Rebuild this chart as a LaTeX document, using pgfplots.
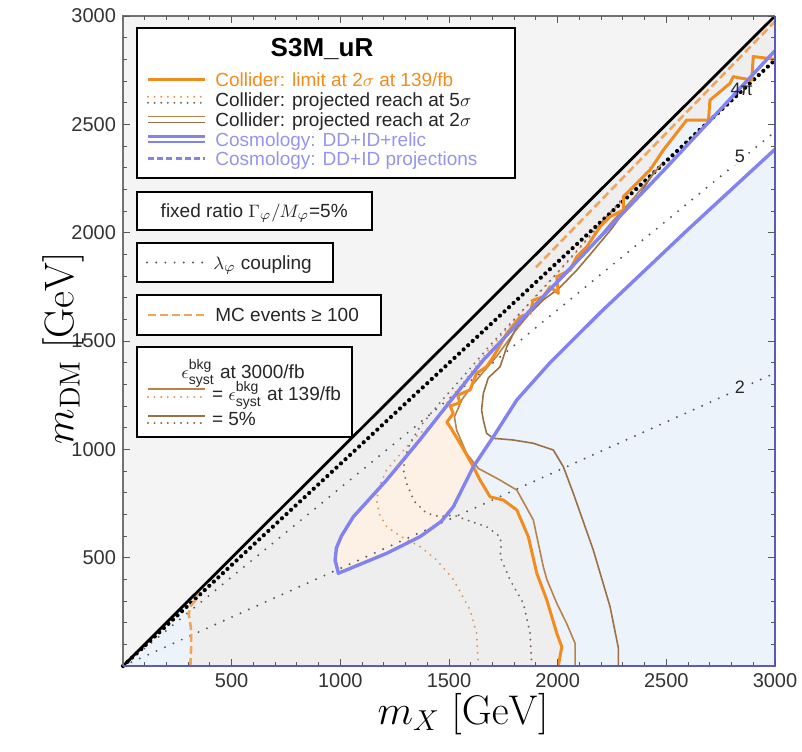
\documentclass[border=0pt]{standalone}
\usepackage[no-math]{fontspec}
\setmainfont{Liberation Sans}
\usepackage{pgfplots}
\pgfplotsset{compat=1.18}

\definecolor{uppergray}{HTML}{F4F4F4}
\definecolor{collgray}{HTML}{EEEEEE}
\definecolor{cosblue}{HTML}{EDF3FB}
\definecolor{tongueor}{HTML}{FDF0E4}
\definecolor{limor}{HTML}{F28C1E}
\definecolor{brownA}{HTML}{B8834A}
\definecolor{brownB}{HTML}{9A7045}
\definecolor{dotA}{HTML}{E0995C}
\definecolor{dotB}{HTML}{7F6A5C}
\definecolor{relicblue}{HTML}{8282F0}
\definecolor{edgeblue}{HTML}{5A5AC0}
\definecolor{legblue}{HTML}{9595F0}
\definecolor{mcor}{HTML}{F0A45C}

\tikzset{
  lamdot/.style={color=black!65, line width=1.1pt, line cap=round, dash pattern=on 0pt off 4.6pt},
  pidot/.style={color=black, line width=2.1pt, line cap=round, dash pattern=on 0pt off 3.1pt},
  dotA/.style={color=dotA, line width=1.1pt, line cap=round, dash pattern=on 0pt off 3.3pt},
  dotB/.style={color=dotB, line width=1.1pt, line cap=round, dash pattern=on 0pt off 3.3pt},
  mcdash/.style={color=mcor, line width=1.3pt, dash pattern=on 4pt off 2pt},
  legbox/.style={draw=black, line width=1.1pt, fill=white},
}

\begin{document}
\begin{tikzpicture}
\useasboundingbox (-61.5pt,-42.5pt) rectangle (339.5pt,333pt);
\begin{axis}[
  at={(0,0)}, anchor=south west,
  scale only axis, width=326pt, height=325pt,
  xmin=0, xmax=3000, ymin=0, ymax=3000,
  xtick={500,1000,1500,2000,2500,3000},
  ytick={500,1000,1500,2000,2500,3000},
  minor xtick={100,200,...,2900},
  minor ytick={100,200,...,2900},
  tick align=inside,
  major tick length=3.5pt, minor tick length=2pt,
  every tick/.style={color=black!65, line width=0.5pt},
  axis line style={draw=none},
  axis on top,
  clip=false,
  no markers,
  ticklabel style={font=\fontsize{10}{12}\selectfont, text=black!80},
  /pgf/number format/assume math mode=true,
  /pgf/number format/set thousands separator={},
  scaled ticks=false,
]
% ---------- background regions ----------
\addplot[fill=uppergray, draw=none] coordinates {(0,0)(3000,3000)(0,3000)} -- cycle;
\addplot[fill=cosblue, draw=none] coordinates {(0,0)(3000,0)(3000,3000)} -- cycle;
% tongue interior (allowed by cosmology)
\addplot[fill=white, draw=none] coordinates {
(991,428)(976,489)(982,545)(1005,600)(1060,689)(1213,858)(1367,1045)(1520,1240)(1658,1412)(1900,1670)(2200,1985)(2500,2300)(2750,2570)(3000,2840)
(3000,2385)(2800,2200)(2600,2015)(2400,1825)(2200,1635)(1965,1400)(1812,1228)(1704,1058)(1612,920)(1520,735)(1465,668)(1367,597)(1213,520)} -- cycle;
% collider excluded
\addplot[fill=collgray, draw=none] coordinates {
(310,0)(314,100)(312,180)(302,240)(310,275)(330,300)(345,345)(3000,3000)(3000,2800)
(2900,2813)(2893,2704)(2808,2720)(2793,2689)(2701,2612)(2694,2520)(2594,2520)(2486,2381)(2425,2289)(2364,2228)(2302,2166)(2302,2104)(2241,2074)(2195,2027)(2134,1935)(2088,1889)(2057,1827)(1996,1797)(2003,1720)(1965,1750)(1934,1704)(1888,1689)(1873,1628)(1827,1612)(1766,1535)(1704,1427)(1673,1381)(1627,1351)(1597,1274)(1540,1250)(1551,1215)(1505,1200)(1520,1166)(1490,1125)(1505,1104)(1551,1028)(1612,920)(1643,858)(1689,781)(1750,766)(1812,720)(1865,597)(1904,428)(1950,305)(1996,151)(2019,89)(2003,0)} -- cycle;
% tongue and collider overlap
\addplot[fill=tongueor, draw=none] coordinates {
(991,428)(1213,520)(1367,597)(1465,668)(1520,735)(1612,920)
(1551,1028)(1505,1104)(1490,1125)(1520,1166)(1505,1200)(1551,1215)(1540,1250)(1597,1274)(1627,1351)(1673,1381)(1704,1427)(1766,1535)
(1766,1527)(1658,1412)(1520,1240)(1367,1045)(1213,858)(1060,689)(1005,600)(982,545)(976,489)} -- cycle;

% ---------- coupling lines ----------
\addplot[lamdot] coordinates {(0,0)(3000,1352)};
\addplot[lamdot] coordinates {(0,0)(3000,2466)};
\addplot[pidot] coordinates {(0,0)(3000,2797)};

% ---------- projected 5 sigma (dotted) ----------
\addplot[dotA] coordinates {(1635,0)(1627,151)(1597,258)(1520,400)(1443,489)(1367,551)(1275,600)(1213,643)(1180,700)(1167,766)(1180,830)(1213,905)(1260,960)(1305,1012)(1360,1070)(1413,1105)(1470,1180)(1500,1230)(1560,1300)(1650,1420)(1760,1550)(1900,1710)(2050,1870)(2200,2040)(2350,2210)(2500,2390)};
\addplot[dotB] coordinates {(1881,0)(1873,151)(1842,289)(1781,397)(1735,505)(1740,560)(1735,597)(1673,643)(1581,674)(1520,697)(1459,689)(1397,705)(1340,760)(1305,843)(1290,905)(1300,970)(1321,1028)(1367,1105)(1420,1170)(1480,1240)(1560,1330)(1680,1470)(1800,1600)(1950,1760)(2100,1930)(2300,2160)};

% ---------- projected 2 sigma (solid brown) ----------
\addplot[brownA, line width=0.8pt] coordinates {(2080,0)(2080,105)(2041,197)(1996,289)(1950,400)(1934,458)(1888,674)(1812,812)(1735,858)(1635,912)(1581,981)(1535,1089)(1525,1150)(1560,1230)(1610,1300)(1660,1360)(1720,1430)(1800,1540)(1880,1640)(1960,1730)(2050,1820)(2150,1930)(2250,2050)(2350,2160)(2480,2320)};
\addplot[brownB, line width=0.8pt] coordinates {(2279,0)(2279,85)(2241,274)(2164,535)(2072,797)(2026,920)(1980,997)(1888,1028)(1796,1043)(1704,1051)(1673,1074)(1658,1135)(1650,1181)(1658,1258)(1681,1330)(1735,1381)(1766,1474)(1812,1566)(1873,1628)(1934,1690)(2003,1740)(2088,1827)(2150,1900)(2250,2020)(2300,2090)(2380,2180)(2450,2290)};

% ---------- observed limit ----------
\addplot[limor, line width=1.5pt, line join=round] coordinates {(2003,0)(2019,89)(1996,151)(1950,305)(1904,428)(1865,597)(1812,720)(1750,766)(1689,781)(1643,858)(1612,920)(1551,1028)(1505,1104)(1490,1125)(1520,1166)(1505,1200)(1551,1215)(1540,1250)(1597,1274)(1627,1351)(1673,1381)(1704,1427)(1766,1535)(1827,1612)(1873,1628)(1888,1689)(1934,1704)(1965,1750)(2003,1720)(1996,1797)(2057,1827)(2088,1889)(2134,1935)(2195,2027)(2241,2074)(2302,2104)(2302,2166)(2364,2228)(2425,2289)(2486,2381)(2594,2520)(2694,2520)(2701,2612)(2793,2689)(2808,2720)(2893,2704)(2900,2813)(3000,2800)};

% ---------- MC events >= 100 ----------
\addplot[mcdash] coordinates {(310,0)(314,100)(312,180)(302,240)(310,275)(330,300)(345,340)};
\addplot[mcdash] coordinates {(1900,1840)(2500,2460)(3000,2975)};

% ---------- cosmology contour ----------
\addplot[relicblue, line width=1.7pt, line join=round] coordinates {
(3000,2840)(2750,2570)(2500,2300)(2200,1985)(1900,1670)(1658,1412)(1520,1240)(1367,1045)(1213,858)(1060,689)(1005,600)(982,545)(976,489)(991,428)
(1213,520)(1367,597)(1465,668)(1520,735)(1612,920)(1704,1058)(1812,1228)(1965,1400)(2200,1635)(2400,1825)(2600,2015)(2800,2200)(3000,2385)};

% ---------- diagonal ----------
\addplot[black, line width=1.4pt] coordinates {(0,0)(3000,3000)};

% ---------- frame ----------
\addplot[black!55, line width=0.6pt] coordinates {(0,0)(0,3000)(3000,3000)};
\addplot[edgeblue, line width=1.3pt] coordinates {(0,0)(3000,0)(3000,3000)};

% ---------- contour labels ----------
\node[font=\fontsize{9}{10}\selectfont, text=black!85, inner sep=1pt] at (axis cs:2847,2660) {4π};
\node[font=\fontsize{9}{10}\selectfont, text=black!85, fill=white, inner sep=1pt] at (axis cs:2838,2351) {5};
\node[font=\fontsize{9}{10}\selectfont, text=black!85, fill=cosblue, inner sep=1pt] at (axis cs:2838,1289) {2};
\end{axis}

% ---------- axis labels ----------
\node at (170pt,-24pt) {\fontsize{21}{24}\selectfont $m_X\ [\mathrm{GeV}]$};
\node[rotate=90] at (-30pt,159pt) {\fontsize{21}{24}\selectfont $m_{\mathrm{DM}}\ [\mathrm{GeV}]$};

% ---------- legend box 1 ----------
\begin{scope}[every node/.style={font=\fontsize{9.5}{10}\selectfont, inner sep=0pt, anchor=west, text height=1.6ex, text depth=0.3ex}]
\draw[legbox] (6.85pt,243.85pt) rectangle (196pt,318.85pt);
\node[anchor=center, font=\fontsize{13}{14}\selectfont\bfseries] at (99.5pt,308pt) {S3M\_uR};
\draw[limor, line width=1.5pt] (12.5pt,293pt) -- (41pt,293pt);
\node[text=limor] at (46pt,293pt) {Collider: limit at 2$\sigma$ at 139/fb};
\draw[dotA] (12.5pt,284.6pt) -- (41pt,284.6pt);
\draw[dotB] (12.5pt,281.6pt) -- (41pt,281.6pt);
\node[text=black!85] at (46pt,283pt) {Collider: projected reach at 5$\sigma$};
\draw[brownA, line width=0.9pt] (12.5pt,274.7pt) -- (41pt,274.7pt);
\draw[brownB, line width=0.9pt] (12.5pt,271.7pt) -- (41pt,271.7pt);
\node[text=black!85] at (46pt,273pt) {Collider: projected reach at 2$\sigma$};
\draw[relicblue, line width=1.6pt] (12.5pt,264.8pt) -- (41pt,264.8pt);
\draw[relicblue, line width=0.6pt] (12.5pt,262pt) -- (41pt,262pt);
\node[text=legblue] at (46pt,263pt) {Cosmology: DD+ID+relic};
\draw[relicblue, line width=1.2pt, dash pattern=on 3pt off 1.6pt] (12.5pt,253.8pt) -- (41pt,253.8pt);
\node[text=legblue] at (46pt,253.8pt) {Cosmology: DD+ID projections};

% ---------- box 2 ----------
\draw[legbox] (6.85pt,218pt) rectangle (124.35pt,237.15pt);
\node[anchor=center, text=black!85] at (65.6pt,227.6pt) {fixed ratio $\Gamma_\varphi/M_\varphi$=5\%};

% ---------- box 3 ----------
\draw[legbox] (6.85pt,192.15pt) rectangle (105.15pt,211.35pt);
\draw[lamdot] (12pt,201.75pt) -- (41pt,201.75pt);
\node[text=black!85] at (45pt,201.75pt) {$\lambda_\varphi$ coupling};

% ---------- box 4 ----------
\draw[legbox] (6.85pt,165.5pt) rectangle (129pt,185.5pt);
\draw[mcdash] (12.5pt,175.5pt) -- (41pt,175.5pt);
\node[text=black!85] at (46pt,175.5pt) {MC events ≥ 100};

% ---------- box 5 ----------
\draw[legbox] (6.85pt,114.65pt) rectangle (114.35pt,159.65pt);
\node[anchor=center, text=black!85] at (60pt,147pt) {$\epsilon^{\hbox{\fontsize{7}{7}\selectfont bkg}}_{\hbox{\fontsize{7}{7}\selectfont syst}}$ at 3000/fb};
\draw[brownA, line width=0.9pt] (12.5pt,138.5pt) -- (41pt,138.5pt);
\draw[dotA] (12.5pt,134.5pt) -- (41pt,134.5pt);
\node[text=black!85] at (44.3pt,136.3pt) {= $\epsilon^{\hbox{\fontsize{7}{7}\selectfont bkg}}_{\hbox{\fontsize{7}{7}\selectfont syst}}$ at 139/fb};
\draw[brownB, line width=0.9pt] (12.5pt,125pt) -- (41pt,125pt);
\draw[dotB] (12.5pt,121.5pt) -- (41pt,121.5pt);
\node[text=black!85] at (44.3pt,123.5pt) {= 5\%};
\end{scope}
\end{tikzpicture}
\end{document}
